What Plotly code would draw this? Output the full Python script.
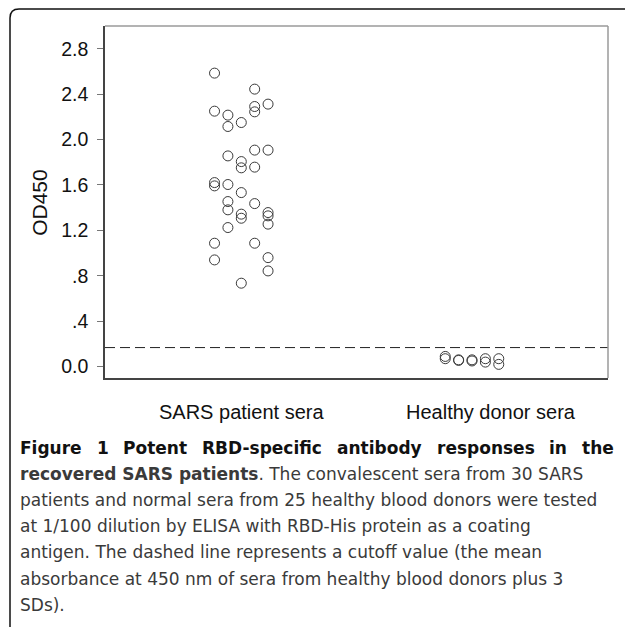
import plotly.graph_objects as go

# ---------------- data ----------------
groups = ["SARS patient sera", "Healthy donor sera"]
group_pos = [1.0, 2.0]

# column index within each group's jitter (-2..2)
sars_col = [-2, 1, -2, -1, -1, 0, 1, 1, 2, -1, 0, 0, 1, 2, 1, -2, -2, -1, 0, -1,
            -1, 1, 0, 0, 2, 2, 2, -1, -2, 1, -2, 2, 2, 0]
sars_od = [2.585, 2.444, 2.250, 2.215, 2.115, 2.150, 2.291, 2.244, 2.312, 1.856,
           1.806, 1.751, 1.907, 1.907, 1.757, 1.621, 1.592, 1.604, 1.533, 1.454,
           1.381, 1.436, 1.343, 1.307, 1.357, 1.328, 1.255, 1.225, 1.087, 1.087,
           0.940, 0.960, 0.843, 0.735]

healthy_col = [-2, -2, -1, -1, 0, 0, 1, 1, 2, 2]
healthy_od = [0.09, 0.07, 0.06, 0.055, 0.05, 0.06, 0.07, 0.04, 0.07, 0.02]

cutoff = 0.168
ytick_vals = [0.0, 0.4, 0.8, 1.2, 1.6, 2.0, 2.4, 2.8]
ytick_text = ["0.0", ".4", ".8", "1.2", "1.6", "2.0", "2.4", "2.8"]
jitter_step = 0.058

caption_line1_words = ["Figure", "1", "Potent", "RBD-specific", "antibody",
                       "responses", "in", "the"]
caption_lines = [
    "<b>recovered SARS patients</b>. The convalescent sera from 30 SARS",
    "patients and normal sera from 25 healthy blood donors were tested",
    "at 1/100 dilution by ELISA with RBD-His protein as a coating",
    "antigen. The dashed line represents a cutoff value (the mean",
    "absorbance at 450 nm of sera from healthy blood donors plus 3",
    "SDs).",
]

# ---------------- layout geometry ----------------
W, H = 625, 627
L, R, T, B = 105, 608, 26, 378.3


def px(x):
    return (x - L) / (R - L)


def py(y):
    return (B - y) / (B - T)


fig = go.Figure()

marker = dict(symbol="circle-open", size=10, color="#3a3a3a", line=dict(width=1))
fig.add_trace(go.Scatter(
    x=[group_pos[0] + c * jitter_step for c in sars_col], y=sars_od,
    mode="markers", marker=marker, showlegend=False, cliponaxis=False))
fig.add_trace(go.Scatter(
    x=[group_pos[1] + c * jitter_step for c in healthy_col], y=healthy_od,
    mode="markers", marker=marker, showlegend=False, cliponaxis=False))

# cutoff dashed line
fig.add_shape(type="line", xref="paper", x0=0, x1=1, yref="y", y0=cutoff, y1=cutoff,
              line=dict(color="#222", width=1, dash="10px,5px"))

# top / right frame (light gray)
fig.add_shape(type="line", xref="paper", yref="paper", x0=0, x1=1, y0=1, y1=1,
              line=dict(color="#9a9a9a", width=1.5))
fig.add_shape(type="line", xref="paper", yref="paper", x0=1, x1=1, y0=0, y1=1,
              line=dict(color="#9a9a9a", width=1.5))

# outer figure border with rounded corner
path = (f"M {px(10)},{py(640)} L {px(10)},{py(18)} "
        f"Q {px(10)},{py(9)} {px(19)},{py(9)} L {px(640)},{py(9)}")
fig.add_shape(type="path", xref="paper", yref="paper", path=path,
              line=dict(color="#111", width=1.5))

annotations = []
axis_font = "Liberation Sans, Arial"
# category labels
label_px = [241, 491]
for g, lx in zip(groups, label_px):
    annotations.append(dict(text=g, xref="paper", yref="paper", x=px(lx), y=py(412),
                            xanchor="center", yanchor="middle", showarrow=False,
                            font=dict(family=axis_font, size=20, color="#111")))
# y title
annotations.append(dict(text="OD450", xref="paper", yref="paper", x=px(40), y=py(203),
                        xanchor="center", yanchor="middle", textangle=-90, showarrow=False,
                        font=dict(family=axis_font, size=21, color="#111")))

# caption line 1 (justified words)
word_x = [18, 94.5, 121, 200, 335, 435, 547, 580]
cap_font = "DejaVu Sans, sans-serif"
for w, wx in zip(caption_line1_words, word_x):
    annotations.append(dict(text=f"<b>{w}</b>", xref="paper", yref="paper", x=px(wx),
                            y=py(448), xanchor="left", yanchor="middle", showarrow=False,
                            font=dict(family=cap_font, size=17, color="#111")))
for i, line in enumerate(caption_lines):
    annotations.append(dict(text=line, xref="paper", yref="paper", x=px(18),
                            y=py(474 + i * 26.3), xanchor="left", yanchor="middle",
                            showarrow=False,
                            font=dict(family=cap_font, size=17, color="#3a3a3a")))

fig.update_layout(
    width=W, height=H,
    margin=dict(l=L, r=W - R, t=T, b=H - B),
    paper_bgcolor="white", plot_bgcolor="white",
    showlegend=False,
    annotations=annotations,
    xaxis=dict(range=[1 - (241.3 - L) / 230.7, 2 + (R - 472) / 230.7],
               showgrid=False, zeroline=False, showticklabels=False, ticks="",
               showline=True, linecolor="#444", linewidth=1.5),
    yaxis=dict(range=[-0.1, 3.0], tickvals=ytick_vals, ticktext=ytick_text,
               showgrid=False, zeroline=False, ticks="outside", ticklen=6,
               tickcolor="#777", tickwidth=1, ticklabelstandoff=5,
               tickfont=dict(family=axis_font, size=19.5, color="#111"),
               showline=True, linecolor="#444", linewidth=1.5),
)

fig.write_html("out.html",
               config={"displayModeBar": False},
               post_script="document.body.style.margin='0';document.body.style.overflow='hidden';")
